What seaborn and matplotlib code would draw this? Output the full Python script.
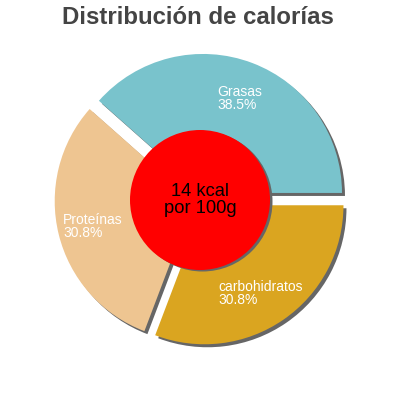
import matplotlib
matplotlib.use("Agg")
import matplotlib.pyplot as plt
import seaborn as sns

# data
categories = ["Grasas", "Proteínas", "carbohidratos"]
shares = [38.5, 30.8, 30.8]
slice_colors = ["#79C3CC", "#EEC591", "#DAA520"]
center_label = "14 kcal\npor 100g"
title = "Distribución de calorías"

sns.set_style("white")
plt.rcParams["font.family"] = ["Liberation Sans", "DejaVu Sans"]

fig = plt.figure(figsize=(4, 4), dpi=100)
ax = fig.add_axes([0, 0, 1, 1])

cx, cy = 200.5, 200.5
R = 139
explode = [7, 7, 7]   # matplotlib takes this in data units
shadow_off = 3

# shadow pie then the coloured one on top
ax.pie(shares, radius=R, center=(cx + shadow_off, cy - shadow_off), explode=explode,
       colors=["#666666"] * 3, startangle=0, wedgeprops=dict(linewidth=0))
wedges, _ = ax.pie(shares, radius=R, center=(cx, cy), explode=explode,
                   colors=slice_colors, startangle=0, wedgeprops=dict(linewidth=0))

# red centre disc with its shadow
ax.add_patch(plt.Circle((cx + 2, cy - 2), 70, color="#666666", lw=0, zorder=5))
ax.add_patch(plt.Circle((cx - 0.5, cy - 0.5), 70, color="#FF0000", lw=0, zorder=6))
ax.text(cx - 0.5, cy - 0.5, center_label, ha="center", va="center", fontsize=13.2,
        color="black", linespacing=0.95, zorder=7)

# slice labels (top-left anchors, image pixels)
label_pos = [(217, 85), (63, 213), (218, 280)]
for name, val, (px, py) in zip(categories, shares, label_pos):
    ax.text(px, 400 - py, f"{name}\n{val}%", ha="left", va="top", fontsize=10,
            color="white", linespacing=0.9, zorder=8)

ax.text(198, 400 - 24, title, ha="center", va="baseline", fontsize=17.3,
        fontweight="bold", color="#444444")

ax.set_xlim(0, 400)
ax.set_ylim(0, 400)
ax.set_aspect("equal")
ax.axis("off")

fig.savefig("out.png", dpi=100)
